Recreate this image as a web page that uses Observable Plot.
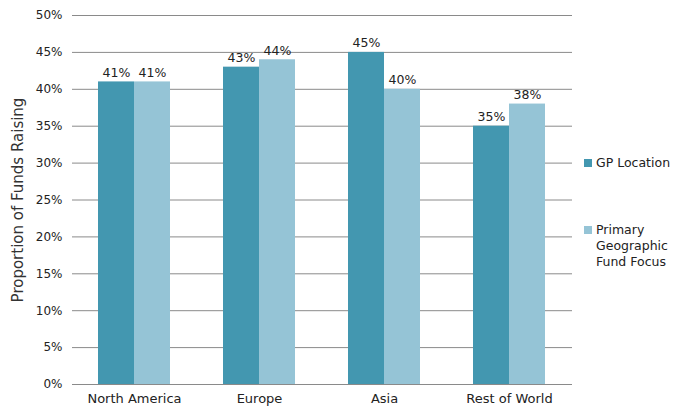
<!DOCTYPE html>
<html>
<head>
<meta charset="utf-8">
<script src="https://cdn.jsdelivr.net/npm/d3@7"></script>
<script src="https://cdn.jsdelivr.net/npm/@observablehq/plot@0.6"></script>
<style>
  html, body { margin: 0; padding: 0; background: #fff; }
  #wrap { position: relative; width: 676px; height: 407px; font-family: "DejaVu Sans", sans-serif; color: #222; }
  #legend { position: absolute; left: 584px; top: 155px; font-size: 12.5px; line-height: 16px; }
  .item { position: relative; padding-left: 12px; }
  .sw { position: absolute; left: 0; top: 4px; width: 8px; height: 8px; }
</style>
</head>
<body>
<div id="wrap"></div>
<script>
const regions = ["North America", "Europe", "Asia", "Rest of World"];
const series = ["GP Location", "Primary Geographic Fund Focus"];
const seriesLines = [["GP Location"], ["Primary", "Geographic", "Fund Focus"]];
const gpLocation = [0.41, 0.43, 0.45, 0.35];
const fundFocus = [0.41, 0.44, 0.40, 0.38];
const colors = ["#4397b0", "#95c4d6"];
const yTicks = [0, 0.05, 0.10, 0.15, 0.20, 0.25, 0.30, 0.35, 0.40, 0.45, 0.50];
const yTitle = "Proportion of Funds Raising";

const data = [];
regions.forEach((r, i) => {
  data.push({region: r, series: series[0], value: gpLocation[i], side: -1});
  data.push({region: r, series: series[1], value: fundFocus[i], side: 1});
});
const gp = data.filter(d => d.side < 0);
const ff = data.filter(d => d.side > 0);
const font = "DejaVu Sans, sans-serif";

const chart = Plot.plot({
  width: 676,
  height: 407,
  marginLeft: 72,
  marginRight: 104,
  marginTop: 15,
  marginBottom: 23,
  style: {fontFamily: font, fontSize: "12px", color: "#222", background: "#fff"},
  x: {domain: regions, paddingInner: 0.712, paddingOuter: 0.356, label: null, tickSize: 0, tickPadding: 9},
  y: {domain: [0, 0.5], ticks: yTicks, tickFormat: d3.format(".0%"), tickSize: 0, tickPadding: 10,
      label: yTitle, labelAnchor: "center", labelOffset: 60},
  color: {domain: series, range: colors},
  marks: [
    Plot.ruleY(yTicks, {stroke: "#8a8a8a", strokeWidth: 1}),
    Plot.barY(gp, {x: "region", y: "value", fill: "series", dx: -18, insetLeft: 0, insetRight: 0}),
    Plot.barY(ff, {x: "region", y: "value", fill: "series", dx: 18, insetLeft: 0, insetRight: 0}),
    Plot.ruleX([0], {frameAnchor: "left", stroke: "#8a8a8a"}),
    Plot.text(gp, {x: "region", y: "value", dx: -18, dy: -5, lineAnchor: "bottom", text: d => d3.format(".0%")(d.value), fontSize: 12.5, fill: "#222"}),
    Plot.text(ff, {x: "region", y: "value", dx: 18, dy: -5, lineAnchor: "bottom", text: d => d3.format(".0%")(d.value), fontSize: 12.5, fill: "#222"})
  ]
});
chart.querySelectorAll('[aria-label="x-axis tick label"] text').forEach(t => t.setAttribute("font-size", "13"));
const yl = chart.querySelector('[aria-label="y-axis label"] text');
if (yl) { yl.setAttribute("font-size", "15"); yl.textContent = yTitle; yl.setAttribute("fill", "#333"); }

const wrap = document.getElementById("wrap");
wrap.appendChild(chart);

const legend = document.createElement("div");
legend.id = "legend";
seriesLines.forEach((lines, i) => {
  const item = document.createElement("div");
  item.className = "item";
  if (i > 0) item.style.marginTop = "51px";
  const sw = document.createElement("div");
  sw.className = "sw";
  sw.style.background = colors[i];
  item.appendChild(sw);
  lines.forEach(l => { const s = document.createElement("div"); s.textContent = l; item.appendChild(s); });
  legend.appendChild(item);
});
wrap.appendChild(legend);
</script>
</body>
</html>
